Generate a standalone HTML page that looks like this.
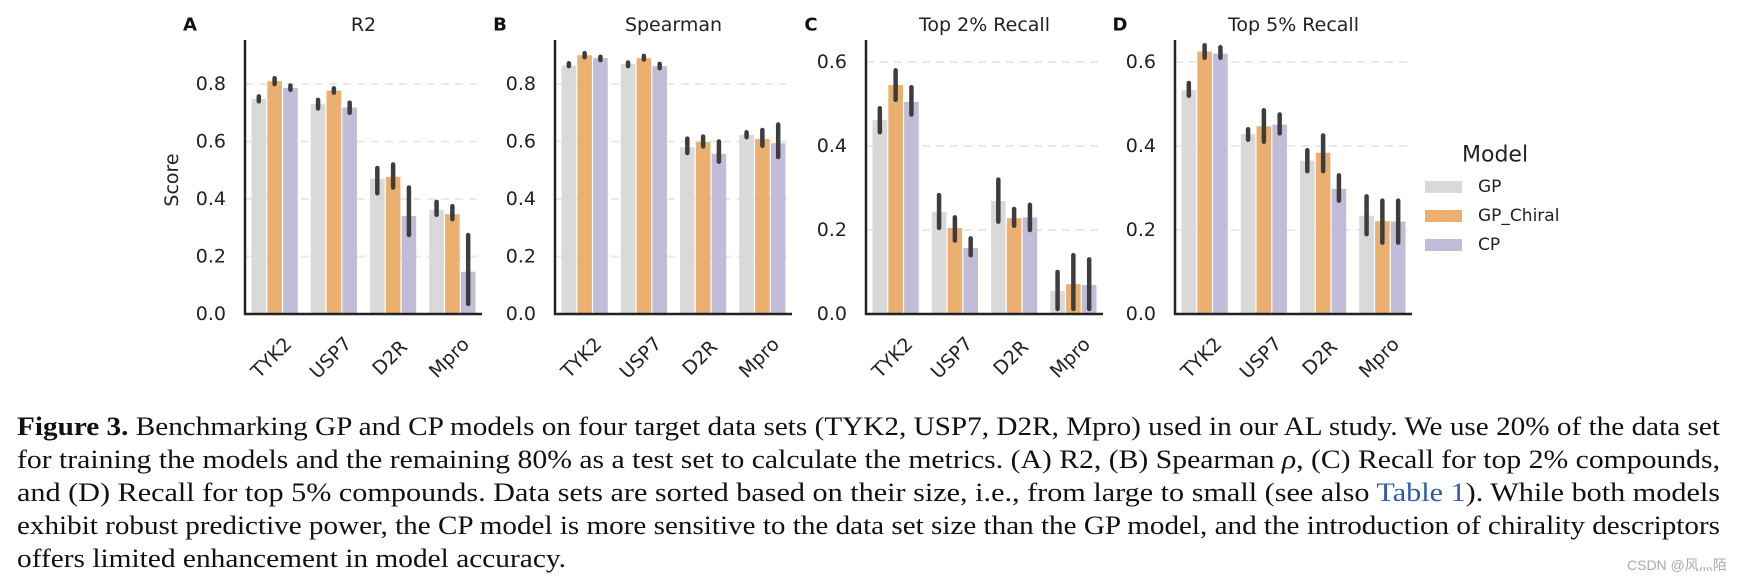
<!DOCTYPE html>
<html><head><meta charset="utf-8"><style>
html,body{margin:0;padding:0;background:#fff;}
svg{display:block;}
</style></head><body>
<svg id="fig" width="1742" height="581" viewBox="0 0 1742 581" xmlns="http://www.w3.org/2000/svg" font-family="'DejaVu Sans', 'Liberation Sans', sans-serif"></svg>
<script>
const categories = ["TYK2","USP7","D2R","Mpro"];
const models = ["GP","GP_Chiral","CP"];
const colors = ["#d9d9d9","#ebb06f","#c1bcd8"];
// panel A R2
const r2Values = [[0.748,0.73,0.47,0.362],[0.81,0.777,0.477,0.347],[0.786,0.718,0.341,0.147]];
const r2Low = [[0.74,0.715,0.42,0.345],[0.80,0.77,0.44,0.33],[0.78,0.70,0.275,0.035]];
const r2High = [[0.757,0.745,0.508,0.39],[0.82,0.785,0.52,0.375],[0.795,0.735,0.44,0.275]];
// panel B Spearman
const spValues = [[0.864,0.87,0.58,0.623],[0.90,0.89,0.598,0.609],[0.89,0.862,0.557,0.594]];
const spLow = [[0.862,0.862,0.56,0.615],[0.893,0.885,0.583,0.585],[0.883,0.855,0.53,0.546]];
const spHigh = [[0.872,0.875,0.61,0.632],[0.907,0.898,0.617,0.64],[0.895,0.87,0.60,0.659]];
// panel C top 2% recall
const t2Values = [[0.462,0.243,0.269,0.055],[0.545,0.205,0.228,0.071],[0.505,0.157,0.23,0.069]];
const t2Low = [[0.433,0.205,0.22,0.012],[0.51,0.175,0.21,0.012],[0.475,0.14,0.2,0.012]];
const t2High = [[0.49,0.283,0.32,0.10],[0.58,0.23,0.25,0.14],[0.54,0.18,0.26,0.13]];
// panel D top 5% recall
const t5Values = [[0.533,0.428,0.365,0.234],[0.625,0.447,0.384,0.221],[0.62,0.451,0.298,0.22]];
const t5Low = [[0.52,0.415,0.34,0.19],[0.61,0.41,0.34,0.17],[0.61,0.43,0.27,0.17]];
const t5High = [[0.55,0.44,0.39,0.28],[0.64,0.485,0.425,0.27],[0.635,0.475,0.33,0.27]];
const ticksAB = [0,0.2,0.4,0.6,0.8];
const ticksCD = [0,0.2,0.4,0.6];
const tickLabelsAB = ["0.0","0.2","0.4","0.6","0.8"];
const tickLabelsCD = ["0.0","0.2","0.4","0.6"];

const NS="http://www.w3.org/2000/svg";
const svg=document.getElementById('fig');
function mk(tag,attrs,parent,text){const e=document.createElementNS(NS,tag);for(const k in attrs)e.setAttribute(k,attrs[k]);if(text!==undefined)e.textContent=text;(parent||svg).appendChild(e);return e;}

const panels=[
 {letter:"A",title:"R2",x0:245,vals:r2Values,lo:r2Low,hi:r2High,ticks:ticksAB,labels:tickLabelsAB,pxPerUnit:287.5},
 {letter:"B",title:"Spearman",x0:555,vals:spValues,lo:spLow,hi:spHigh,ticks:ticksAB,labels:tickLabelsAB,pxPerUnit:287.5},
 {letter:"C",title:"Top 2% Recall",x0:866,vals:t2Values,lo:t2Low,hi:t2High,ticks:ticksCD,labels:tickLabelsCD,pxPerUnit:420},
 {letter:"D",title:"Top 5% Recall",x0:1175,vals:t5Values,lo:t5Low,hi:t5High,ticks:ticksCD,labels:tickLabelsCD,pxPerUnit:420}
];
const W=237, Y0=314, YTOP=40;
panels.forEach((p,pi)=>{
  const g=mk('g',{});
  
  
  const yS=v=>Y0-v*p.pxPerUnit;
  const bw=W/categories.length;
  const xS=i=>p.x0+bw*(i+0.5);
  // gridlines
  p.ticks.forEach((t,ti)=>{
    if(t>0){const gl=mk('line',{x1:p.x0,x2:p.x0+W,y1:yS(t),y2:yS(t),stroke:'#e9e9e9','stroke-width':2,'stroke-dasharray':'8,6'},g);
      
      }
    const tl=mk('text',{x:p.x0-19,y:yS(t),'text-anchor':'end','dominant-baseline':'central','font-size':19,fill:'#222'},g,p.labels[ti]);
    
    
  });
  // bars
  const gw=bw*0.8, sw=gw/3;
  categories.forEach((c,ci)=>{
    models.forEach((m,mi)=>{
      const v=p.vals[mi][ci];
      const x=xS(ci)-gw/2+mi*sw;
      const r=mk('rect',{x:x+0.6,y:yS(v),width:sw-1.2,height:Y0-yS(v),fill:colors[mi]},g);
      
      
    });
  });
  categories.forEach((c,ci)=>{
    models.forEach((m,mi)=>{
      const x=xS(ci)-gw/2+(mi+0.5)*sw;
      const e=mk('line',{x1:x,x2:x,y1:yS(p.lo[mi][ci]),y2:yS(p.hi[mi][ci]),stroke:'#3d3d3d','stroke-width':4.5,'stroke-linecap':'round'},g);
      
      
    });
    const xl=mk('text',{x:0,y:0,'text-anchor':'middle','dominant-baseline':'central','font-size':19,fill:'#222',transform:`translate(${xS(ci)-3},${358}) rotate(-45)`},g,c);
    
    
  });
  // spines
  const ax=mk('path',{d:`M${p.x0},${YTOP} L${p.x0},${Y0} L${p.x0+W},${Y0}`,fill:'none',stroke:'#222','stroke-width':2.5},g);
  
  
  const tt=mk('text',{x:p.x0+W/2,y:25,'text-anchor':'middle','dominant-baseline':'central','font-size':19,fill:'#222'},g,p.title);
  
  
  const lt=mk('text',{x:p.x0-55,y:25,'text-anchor':'middle','dominant-baseline':'central','font-size':18,'font-weight':'bold',fill:'#111'},g,p.letter);
  
  
});
const yl=mk('text',{x:0,y:0,'text-anchor':'middle','dominant-baseline':'central','font-size':19,fill:'#222',transform:'translate(172,180) rotate(-90)'},svg,'Score');


// legend
const lg=mk('g',{});


const lgt=mk('text',{x:1462,y:155,'dominant-baseline':'central','font-size':22,fill:'#222'},lg,'Model');


models.forEach((m,mi)=>{
  const cy=187+mi*29;
  const r=mk('rect',{x:1425,y:cy-6,width:37,height:12,fill:colors[mi]},lg);
  
  
  const t=mk('text',{x:1478,y:cy,'dominant-baseline':'central','font-size':17,fill:'#222'},lg,m);
  
  
});
</script>
<svg style="position:absolute;left:0;top:0" width="1742" height="581" xmlns="http://www.w3.org/2000/svg" font-family="'Liberation Serif', serif">
<text x="17" y="435" font-size="26" fill="#111" textLength="1703" lengthAdjust="spacingAndGlyphs"><tspan font-weight="bold">Figure 3.</tspan> Benchmarking GP and CP models on four target data sets (TYK2, USP7, D2R, Mpro) used in our AL study. We use 20% of the data set</text>
<text x="17" y="468" font-size="26" fill="#111" textLength="1703" lengthAdjust="spacingAndGlyphs">for training the models and the remaining 80% as a test set to calculate the metrics. (A) R2, (B) Spearman <tspan font-style="italic">ρ</tspan>, (C) Recall for top 2% compounds,</text>
<text x="17" y="501" font-size="26" fill="#111" textLength="1703" lengthAdjust="spacingAndGlyphs">and (D) Recall for top 5% compounds. Data sets are sorted based on their size, i.e., from large to small (see also <tspan fill="#2a5ca8">Table 1</tspan>). While both models</text>
<text x="17" y="534" font-size="26" fill="#111" textLength="1703" lengthAdjust="spacingAndGlyphs">exhibit robust predictive power, the CP model is more sensitive to the data set size than the GP model, and the introduction of chirality descriptors</text>
<text x="17" y="567" font-size="26" fill="#111" textLength="549" lengthAdjust="spacingAndGlyphs">offers limited enhancement in model accuracy.</text>
<text x="1627" y="570" font-size="14" fill="#aaa" font-family="'Liberation Sans','Noto Sans CJK SC',sans-serif">CSDN @风灬陌</text>
</svg>
</body></html>
